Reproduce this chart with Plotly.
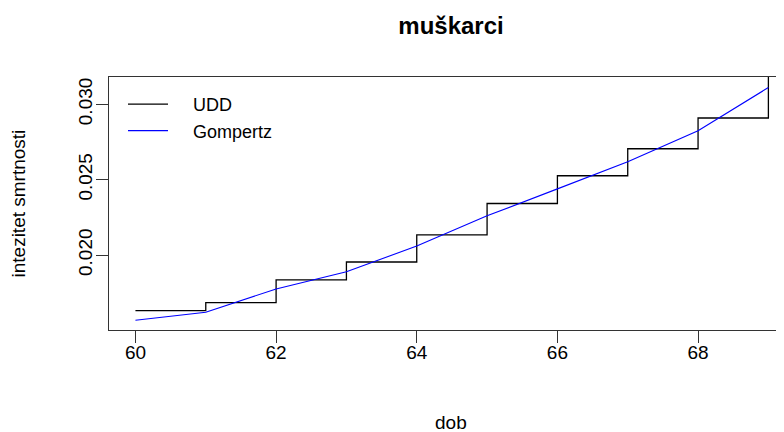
import plotly.graph_objects as go

# ages (dob)
ages = [60, 61, 62, 63, 64, 65, 66, 67, 68, 69]
# UDD piecewise-constant force of mortality on [x, x+1)
udd_mu = [0.01631, 0.01684, 0.01836, 0.01954, 0.02134, 0.02342, 0.02526, 0.02705, 0.02909, 0.03200]
# Gompertz force of mortality at integer ages
gomp_mu = [0.01568, 0.01621, 0.01775, 0.01889, 0.02060, 0.02260, 0.02439, 0.02619, 0.02825, 0.03111]

x_ticks = [60, 62, 64, 66, 68]
y_ticks = [0.020, 0.025, 0.030]

udd_x = ages + [ages[-1] + 1]
udd_y = udd_mu + [udd_mu[-1]]

FONT = "Liberation Sans, Arial, sans-serif"
AXC = "#333333"
NB = "\u00a0"

fig = go.Figure()
fig.add_trace(go.Scatter(x=udd_x, y=udd_y, mode="lines", line_shape="hv",
                         line=dict(color="#000000", width=1.3), name=NB * 4 + "UDD",
                         legendgroup="a"))
fig.add_trace(go.Scatter(x=ages, y=gomp_mu, mode="lines",
                         line=dict(color="#0000FF", width=1.1), name=NB * 4 + "Gompertz",
                         legendgroup="b"))

# page offset (browser body margin) compensation
OFF = 8
W, H = 784 - OFF, 432 - OFF
L = 109 - OFF
T = 77 - OFF
B = 432 - 330
R = 0
pw = W - L - R
ph = H - T - B


def px_x(sx):
    return (sx - OFF - L) / pw


def px_y(sy):
    return 1 - (sy - OFF - T) / ph


fig.update_layout(
    width=W, height=H,
    margin=dict(l=L, r=R, t=T, b=B, pad=0),
    paper_bgcolor="white", plot_bgcolor="white",
    font=dict(family=FONT, size=19, color="black"),
    title=dict(text="<b>muškarci</b>", x=px_x(451), xref="paper", xanchor="center",
               y=1 - (26 - OFF) / H, yanchor="middle", font=dict(size=24, family=FONT)),
    showlegend=True,
    legend=dict(x=px_x(123), y=px_y(86), xanchor="left", yanchor="top",
                bgcolor="rgba(0,0,0,0)", borderwidth=0, font=dict(size=18, family=FONT),
                tracegroupgap=0, traceorder="grouped", itemwidth=40),
    xaxis=dict(range=[59.624, 69.222], tickvals=x_ticks, ticktext=[str(v) for v in x_ticks],
               showgrid=False, zeroline=False, showline=True, mirror=True, linecolor=AXC,
               linewidth=1, ticks="outside", ticklen=12, tickcolor=AXC, tickwidth=1,
               tickfont=dict(size=19, family=FONT), ticklabelstandoff=-7),
    yaxis=dict(range=[0.01503, 0.03181], tickvals=y_ticks, ticktext=["0.020", "0.025", "0.030"],
               showgrid=False, zeroline=False, showline=True, mirror=False, linecolor=AXC,
               linewidth=1, ticks="outside", ticklen=12, tickcolor=AXC, tickwidth=1,
               tickangle=-90, tickfont=dict(size=19, family=FONT), ticklabelstandoff=-4),
    annotations=[
        dict(text="dob", xref="paper", yref="paper", x=px_x(451), y=0, xanchor="center",
             yanchor="middle", yshift=-(422 - 330), showarrow=False,
             font=dict(size=19, family=FONT)),
        dict(text="intezitet smrtnosti", xref="paper", yref="paper", x=0, y=0.5,
             xanchor="center", yanchor="middle", xshift=-(109 - 18), textangle=-90,
             showarrow=False, font=dict(size=19, family=FONT)),
    ],
)

fig.write_html("out.html")
